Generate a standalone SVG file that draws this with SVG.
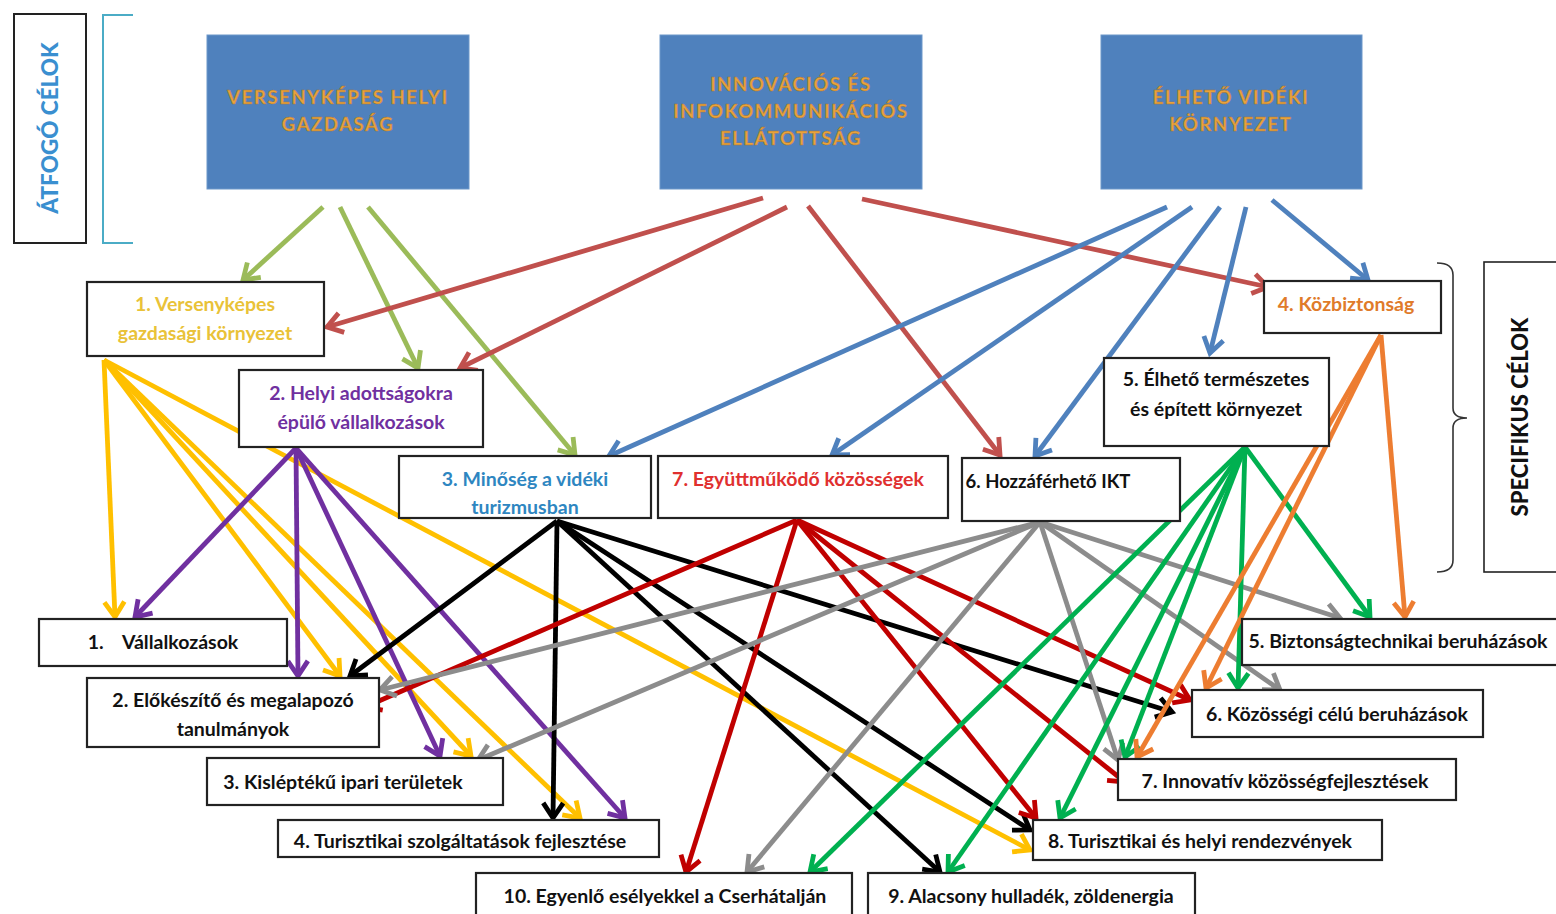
<svg xmlns="http://www.w3.org/2000/svg" width="1556" height="914" viewBox="0 0 1556 914">
<style>
.box{fill:#fff;stroke:#222;stroke-width:2.2}
.top{fill:#4f81bd;stroke:#6d97c9;stroke-width:1}
.t{font-family:Lato,"Open Sans",sans-serif;font-weight:bold;font-size:19.5px;text-anchor:middle;dominant-baseline:central}
.tt{font-family:Lato,"Open Sans",sans-serif;font-weight:bold;font-size:18.5px;letter-spacing:1.6px;text-anchor:middle;dominant-baseline:central;fill:#e8a33d;stroke:#a8742a;stroke-width:0.4}
.c line{stroke-width:4.8;fill:none}
.og line{stroke:#9bbb59}
.rd line{stroke:#c0504d}
.bl line{stroke:#4f81bd}
.ye line{stroke:#ffc000}
.pu line{stroke:#7030a0}
.bk line{stroke:#000}
.dr line{stroke:#c00000}
.gr line{stroke:#8c8c8c}
.gn line{stroke:#00b050}
.or line{stroke:#ed7d31}
.ah{fill:none;stroke-width:4.8;stroke-linejoin:miter}
</style>
<defs>
<marker id="m-og" markerUnits="userSpaceOnUse" viewBox="-22 -14 28 28" refX="0" refY="0" markerWidth="28" markerHeight="28" orient="auto"><path class="ah" d="M-15,-10 L0,0 L-15,10" stroke="#9bbb59"/></marker>
<marker id="m-rd" markerUnits="userSpaceOnUse" viewBox="-22 -14 28 28" refX="0" refY="0" markerWidth="28" markerHeight="28" orient="auto"><path class="ah" d="M-15,-10 L0,0 L-15,10" stroke="#c0504d"/></marker>
<marker id="m-bl" markerUnits="userSpaceOnUse" viewBox="-22 -14 28 28" refX="0" refY="0" markerWidth="28" markerHeight="28" orient="auto"><path class="ah" d="M-15,-10 L0,0 L-15,10" stroke="#4f81bd"/></marker>
<marker id="m-ye" markerUnits="userSpaceOnUse" viewBox="-22 -14 28 28" refX="0" refY="0" markerWidth="28" markerHeight="28" orient="auto"><path class="ah" d="M-15,-10 L0,0 L-15,10" stroke="#ffc000"/></marker>
<marker id="m-pu" markerUnits="userSpaceOnUse" viewBox="-22 -14 28 28" refX="0" refY="0" markerWidth="28" markerHeight="28" orient="auto"><path class="ah" d="M-15,-10 L0,0 L-15,10" stroke="#7030a0"/></marker>
<marker id="m-bk" markerUnits="userSpaceOnUse" viewBox="-22 -14 28 28" refX="0" refY="0" markerWidth="28" markerHeight="28" orient="auto"><path class="ah" d="M-15,-10 L0,0 L-15,10" stroke="#000"/></marker>
<marker id="m-dr" markerUnits="userSpaceOnUse" viewBox="-22 -14 28 28" refX="0" refY="0" markerWidth="28" markerHeight="28" orient="auto"><path class="ah" d="M-15,-10 L0,0 L-15,10" stroke="#c00000"/></marker>
<marker id="m-gr" markerUnits="userSpaceOnUse" viewBox="-22 -14 28 28" refX="0" refY="0" markerWidth="28" markerHeight="28" orient="auto"><path class="ah" d="M-15,-10 L0,0 L-15,10" stroke="#8c8c8c"/></marker>
<marker id="m-gn" markerUnits="userSpaceOnUse" viewBox="-22 -14 28 28" refX="0" refY="0" markerWidth="28" markerHeight="28" orient="auto"><path class="ah" d="M-15,-10 L0,0 L-15,10" stroke="#00b050"/></marker>
<marker id="m-or" markerUnits="userSpaceOnUse" viewBox="-22 -14 28 28" refX="0" refY="0" markerWidth="28" markerHeight="28" orient="auto"><path class="ah" d="M-15,-10 L0,0 L-15,10" stroke="#ed7d31"/></marker>
</defs>
<rect width="1556" height="914" fill="#fff"/>

<g id="connectors" class="c">
<g class="og">
<line x1="323" y1="207" x2="243" y2="280" marker-end="url(#m-og)"/>
<line x1="340" y1="207" x2="418" y2="368" marker-end="url(#m-og)"/>
<line x1="368" y1="207" x2="575" y2="455" marker-end="url(#m-og)"/>
</g>
<g class="rd">
<line x1="763" y1="198" x2="327" y2="327" marker-end="url(#m-rd)"/>
<line x1="787" y1="207" x2="460" y2="368" marker-end="url(#m-rd)"/>
<line x1="808" y1="206" x2="1000" y2="455" marker-end="url(#m-rd)"/>
<line x1="862" y1="199" x2="1268" y2="287" marker-end="url(#m-rd)"/>
</g>
<g class="bl">
<line x1="1167" y1="207" x2="609" y2="456" marker-end="url(#m-bl)"/>
<line x1="1192" y1="207" x2="832" y2="455" marker-end="url(#m-bl)"/>
<line x1="1220" y1="207" x2="1035" y2="456" marker-end="url(#m-bl)"/>
<line x1="1246" y1="207" x2="1210" y2="353" marker-end="url(#m-bl)"/>
<line x1="1272" y1="200" x2="1368" y2="280" marker-end="url(#m-bl)"/>
</g>
<g class="ye">
<line x1="104" y1="360" x2="115" y2="617" marker-end="url(#m-ye)"/>
<line x1="104" y1="360" x2="340" y2="676" marker-end="url(#m-ye)"/>
<line x1="104" y1="360" x2="471" y2="756" marker-end="url(#m-ye)"/>
<line x1="104" y1="360" x2="580" y2="818" marker-end="url(#m-ye)"/>
<line x1="104" y1="360" x2="1030" y2="850" marker-end="url(#m-ye)"/>
</g>
<g class="pu">
<line x1="296" y1="448" x2="135" y2="617" marker-end="url(#m-pu)"/>
<line x1="296" y1="448" x2="298" y2="676" marker-end="url(#m-pu)"/>
<line x1="296" y1="448" x2="440" y2="756" marker-end="url(#m-pu)"/>
<line x1="296" y1="448" x2="625" y2="818" marker-end="url(#m-pu)"/>
</g>
<g class="bk">
<line x1="557" y1="521" x2="350" y2="676" marker-end="url(#m-bk)"/>
<line x1="557" y1="521" x2="553" y2="818" marker-end="url(#m-bk)"/>
<line x1="557" y1="521" x2="940" y2="872" marker-end="url(#m-bk)"/>
<line x1="557" y1="521" x2="1030" y2="830" marker-end="url(#m-bk)"/>
<line x1="557" y1="521" x2="1172" y2="712" marker-end="url(#m-bk)"/>
</g>
<g class="dr">
<line x1="797" y1="520" x2="365" y2="707" marker-end="url(#m-dr)"/>
<line x1="797" y1="520" x2="686" y2="872" marker-end="url(#m-dr)"/>
<line x1="797" y1="520" x2="1036" y2="818" marker-end="url(#m-dr)"/>
<line x1="797" y1="520" x2="1125" y2="782" marker-end="url(#m-dr)"/>
<line x1="797" y1="520" x2="1190" y2="700" marker-end="url(#m-dr)"/>
</g>
<g class="gr">
<line x1="1040" y1="522" x2="380" y2="690" marker-end="url(#m-gr)"/>
<line x1="1040" y1="522" x2="478" y2="760" marker-end="url(#m-gr)"/>
<line x1="1040" y1="522" x2="747" y2="872" marker-end="url(#m-gr)"/>
<line x1="1040" y1="522" x2="1118" y2="760" marker-end="url(#m-gr)"/>
<line x1="1040" y1="522" x2="1280" y2="690" marker-end="url(#m-gr)"/>
<line x1="1040" y1="522" x2="1340" y2="618" marker-end="url(#m-gr)"/>
</g>
<g class="gn">
<line x1="1245" y1="447" x2="810" y2="872" marker-end="url(#m-gn)"/>
<line x1="1245" y1="447" x2="948" y2="872" marker-end="url(#m-gn)"/>
<line x1="1245" y1="447" x2="1060" y2="818" marker-end="url(#m-gn)"/>
<line x1="1245" y1="447" x2="1125" y2="757" marker-end="url(#m-gn)"/>
<line x1="1245" y1="447" x2="1238" y2="688" marker-end="url(#m-gn)"/>
<line x1="1245" y1="447" x2="1370" y2="617" marker-end="url(#m-gn)"/>
</g>
<g class="or">
<line x1="1381" y1="335" x2="1405" y2="617" marker-end="url(#m-or)"/>
<line x1="1381" y1="335" x2="1206" y2="688" marker-end="url(#m-or)"/>
<line x1="1381" y1="335" x2="1137" y2="757" marker-end="url(#m-or)"/>
</g>
</g>

<g id="label-atfogo">
<rect x="14" y="14" width="72" height="229" fill="#fff" stroke="#222" stroke-width="2"/>
<text class="t" transform="translate(49,128) rotate(-90)" style="font-size:22.5px;fill:#3a8fd0;font-weight:900">ÁTFOGÓ CÉLOK</text>
<path d="M133,15 L103,15 L103,243 L133,243" fill="none" stroke="#4bacc6" stroke-width="2"/>
</g>
<g id="label-specifikus">
<path d="M1437,263 Q1453,263 1453,275 L1453,408 Q1453,418 1467,418 Q1453,418 1453,428 L1453,560 Q1453,572 1437,572" fill="none" stroke="#333" stroke-width="1.6"/>
<rect x="1484" y="262" width="80" height="310" fill="#fff" stroke="#222" stroke-width="1.6"/>
<text class="t" transform="translate(1519,417) rotate(-90)" style="font-size:22px;fill:#111;font-weight:900">SPECIFIKUS CÉLOK</text>
</g>

<g id="top1"><rect class="top" x="207" y="35" width="262" height="154"/><text class="tt" x="338" y="97">VERSENYKÉPES HELYI</text><text class="tt" x="338" y="124">GAZDASÁG</text></g>
<g id="top2"><rect class="top" x="660" y="35" width="262" height="154"/><text class="tt" x="791" y="84">INNOVÁCIÓS ÉS</text><text class="tt" x="791" y="111">INFOKOMMUNIKÁCIÓS</text><text class="tt" x="791" y="138">ELLÁTOTTSÁG</text></g>
<g id="top3"><rect class="top" x="1101" y="35" width="261" height="154"/><text class="tt" x="1231" y="97">ÉLHETŐ VIDÉKI</text><text class="tt" x="1231" y="124">KÖRNYEZET</text></g>

<g id="s1"><rect class="box" x="87" y="282" width="237" height="74"/><text class="t" x="205" y="303" fill="#e9c238">1. Versenyképes</text><text class="t" x="205" y="332" fill="#e9c238">gazdasági környezet</text></g>
<g id="s2"><rect class="box" x="239" y="370" width="244" height="77"/><text class="t" x="361" y="392" fill="#7030a0">2. Helyi adottságokra</text><text class="t" x="361" y="421" fill="#7030a0">épülő vállalkozások</text></g>
<g id="s3"><rect class="box" x="399" y="456" width="252" height="62"/><text class="t" x="525" y="478" fill="#2e86c1">3. Minőség a vidéki</text><text class="t" x="525" y="506" fill="#2e86c1">turizmusban</text></g>
<g id="s7"><rect class="box" x="658" y="456" width="290" height="62"/><text class="t" x="798" y="478" fill="#e0302f">7. Együttműködő közösségek</text></g>
<g id="s6"><rect class="box" x="962" y="458" width="218" height="63"/><text class="t" x="1048" y="481" fill="#111" style="font-size:18.5px">6. Hozzáférhető IKT</text></g>
<g id="s5"><rect class="box" x="1104" y="358" width="225" height="88"/><text class="t" x="1216" y="378" fill="#111">5. Élhető természetes</text><text class="t" x="1216" y="408" fill="#111">és épített környezet</text></g>
<g id="s4"><rect class="box" x="1264" y="281" width="177" height="52"/><text class="t" x="1346" y="303" fill="#e07b2a">4. Közbiztonság</text></g>

<g id="b1"><rect class="box" x="39" y="619" width="248" height="47"/><text class="t" x="163" y="641" fill="#111" xml:space="preserve">1.    Vállalkozások</text></g>
<g id="b2"><rect class="box" x="87" y="678" width="292" height="69"/><text class="t" x="233" y="699" fill="#111">2. Előkészítő és megalapozó</text><text class="t" x="233" y="728" fill="#111">tanulmányok</text></g>
<g id="b3"><rect class="box" x="207" y="758" width="296" height="47"/><text class="t" x="343" y="781" fill="#111">3. Kisléptékű ipari területek</text></g>
<g id="b4"><rect class="box" x="278" y="820" width="381" height="37"/><text class="t" x="460" y="840" fill="#111">4. Turisztikai szolgáltatások fejlesztése</text></g>
<g id="b10"><rect class="box" x="476" y="873" width="376" height="44"/><text class="t" x="665" y="895" fill="#111">10. Egyenlő esélyekkel a Cserhátalján</text></g>
<g id="b9"><rect class="box" x="868" y="873" width="327" height="44"/><text class="t" x="1031" y="895" fill="#111">9. Alacsony hulladék, zöldenergia</text></g>
<g id="b8"><rect class="box" x="1033" y="820" width="349" height="40"/><text class="t" x="1200" y="840" fill="#111">8. Turisztikai és helyi rendezvények</text></g>
<g id="b7"><rect class="box" x="1118" y="759" width="338" height="41"/><text class="t" x="1285" y="780" fill="#111">7. Innovatív közösségfejlesztések</text></g>
<g id="b6"><rect class="box" x="1192" y="690" width="291" height="47"/><text class="t" x="1337" y="713" fill="#111">6. Közösségi célú beruházások</text></g>
<g id="b5"><rect class="box" x="1242" y="619" width="320" height="46"/><text class="t" x="1398" y="640" fill="#111">5. Biztonságtechnikai beruházások</text></g>
</svg>
